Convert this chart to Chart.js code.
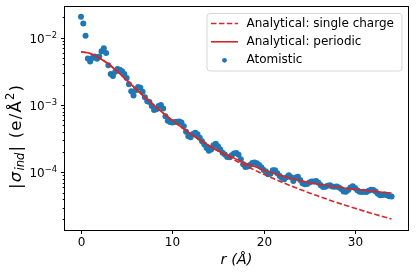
<!DOCTYPE html>
<html>
<head>
<meta charset="utf-8">
<script src="https://cdn.jsdelivr.net/npm/chart.js@4.4.1/dist/chart.umd.min.js"></script>
<style>html,body{margin:0;padding:0;background:#fff;}canvas{display:block;}</style>
</head>
<body>
<canvas id="c" width="416" height="276"></canvas>
<script>
// ---- data ----
const lineR = [0,1,2,3,4,5,6,7,8,9,10,11,12,13,14,15,16,17,18,19,20,21,22,23,24,25,26,27,28,29,30,31,32,33,34];
const singleCharge = [6.19e-3,5.85e-3,5.00e-3,4.07e-3,3.13e-3,2.34e-3,1.74e-3,1.30e-3,9.89e-4,7.59e-4,5.92e-4,4.68e-4,3.73e-4,3.02e-4,2.48e-4,2.07e-4,1.73e-4,1.47e-4,1.26e-4,1.08e-4,9.33e-5,8.15e-5,7.13e-5,6.28e-5,5.56e-5,4.94e-5,4.42e-5,3.96e-5,3.56e-5,3.22e-5,2.92e-5,2.65e-5,2.42e-5,2.21e-5,2.02e-5];
const periodic = [6.19e-3,5.85e-3,5.00e-3,4.07e-3,3.13e-3,2.34e-3,1.74e-3,1.30e-3,9.89e-4,7.59e-4,5.92e-4,4.68e-4,3.73e-4,3.04e-4,2.51e-4,2.11e-4,1.81e-4,1.57e-4,1.37e-4,1.22e-4,1.08e-4,9.75e-5,8.85e-5,8.09e-5,7.52e-5,7.05e-5,6.65e-5,6.32e-5,6.04e-5,5.79e-5,5.60e-5,5.41e-5,5.24e-5,5.07e-5,4.92e-5];
const atomR = [0,0.25,0.5,0.75,1,1.25,1.5,1.75,2,2.25,2.5,2.75,3,3.25,3.5,3.75,4,4.25,4.5,4.75,5,5.25,5.5,5.75,6,6.25,6.5,6.75,7,7.25,7.5,7.75,8,8.25,8.5,8.75,9,9.25,9.5,9.75,10,10.25,10.5,10.75,11,11.25,11.5,11.75,12,12.25,12.5,12.75,13,13.25,13.5,13.75,14,14.25,14.5,14.75,15,15.25,15.5,15.75,16,16.25,16.5,16.75,17,17.25,17.5,17.75,18,18.25,18.5,18.75,19,19.25,19.5,19.75,20,20.25,20.5,20.75,21,21.25,21.5,21.75,22,22.25,22.5,22.75,23,23.25,23.5,23.75,24,24.25,24.5,24.75,25,25.25,25.5,25.75,26,26.25,26.5,26.75,27,27.25,27.5,27.75,28,28.25,28.5,28.75,29,29.25,29.5,29.75,30,30.25,30.5,30.75,31,31.25,31.5,31.75,32,32.25,32.5,32.75,33,33.25,33.5,33.75,34];
const atomistic = [2.05e-2,1.62e-2,1.07e-2,4.93e-3,4.44e-3,5.01e-3,5.28e-3,4.85e-3,5.24e-3,6.27e-3,6.98e-3,5.92e-3,3.89e-3,2.89e-3,2.70e-3,3.12e-3,3.43e-3,3.34e-3,3.18e-3,2.89e-3,2.51e-3,2.03e-3,1.60e-3,1.39e-3,1.66e-3,1.86e-3,1.81e-3,1.57e-3,1.30e-3,1.14e-3,1.11e-3,9.66e-4,8.41e-4,8.63e-4,9.70e-4,9.98e-4,8.91e-4,6.81e-4,5.83e-4,5.61e-4,5.52e-4,5.57e-4,5.64e-4,5.69e-4,5.50e-4,4.84e-4,3.99e-4,3.44e-4,3.33e-4,3.72e-4,3.86e-4,3.67e-4,3.26e-4,2.90e-4,2.58e-4,2.30e-4,2.09e-4,2.19e-4,2.52e-4,2.65e-4,2.43e-4,2.18e-4,1.95e-4,1.84e-4,1.69e-4,1.67e-4,1.80e-4,1.91e-4,1.93e-4,1.82e-4,1.57e-4,1.32e-4,1.20e-4,1.22e-4,1.29e-4,1.37e-4,1.40e-4,1.36e-4,1.29e-4,1.19e-4,1.08e-4,1.03e-4,9.38e-5,9.55e-5,1.07e-4,1.07e-4,9.72e-5,8.85e-5,8.26e-5,7.89e-5,8.45e-5,9.08e-5,8.47e-5,7.41e-5,8.36e-5,8.59e-5,7.69e-5,6.90e-5,6.64e-5,6.68e-5,7.05e-5,7.28e-5,7.33e-5,7.40e-5,6.97e-5,6.41e-5,6.05e-5,6.11e-5,6.32e-5,6.40e-5,6.18e-5,6.11e-5,6.18e-5,5.97e-5,5.65e-5,5.21e-5,5.16e-5,5.48e-5,5.96e-5,6.19e-5,5.86e-5,5.42e-5,5.13e-5,5.09e-5,5.16e-5,5.12e-5,5.32e-5,5.52e-5,5.48e-5,5.19e-5,4.81e-5,4.55e-5,4.62e-5,4.70e-5,4.55e-5,4.42e-5,4.39e-5];
const xTicks = [0, 10, 20, 30];
const yTickExps = [-2, -3, -4];
const seriesLabels = ['Analytical: single charge', 'Analytical: periodic', 'Atomistic'];

const RED = '#d62728', BLUE = '#1f77b4';
const FONT = '"DejaVu Sans", sans-serif';

function pts(xs, ys){ return xs.map((x,i)=>({x:x, y:ys[i]})); }

const axesPlugin = {
  id: 'mplAxes',
  afterDraw(chart){
    const ctx = chart.ctx, a = chart.chartArea;
    const xs = chart.scales.x, ys = chart.scales.y;
    ctx.save();
    // frame
    ctx.strokeStyle = '#000'; ctx.lineWidth = 1;
    ctx.strokeRect(Math.round(a.left)-0.5, Math.round(a.top)-0.5, Math.round(a.right-a.left)+1, Math.round(a.bottom-a.top)+1);
    // x ticks
    ctx.fillStyle = '#000';
    ctx.font = '12px ' + FONT;
    ctx.textAlign = 'center'; ctx.textBaseline = 'middle';
    xTicks.forEach(t=>{
      const px = Math.round(xs.getPixelForValue(t)) + 0.5;
      ctx.beginPath(); ctx.moveTo(px, a.bottom); ctx.lineTo(px, a.bottom+4); ctx.stroke();
      ctx.fillText(String(t), px, a.bottom + 13);
    });
    // y minor ticks
    for (let e=-6; e<=-1; e++){
      for (let k=2; k<=9; k++){
        const v = k*Math.pow(10,e);
        if (v < ys.min || v > ys.max) continue;
        const py = Math.round(ys.getPixelForValue(v)) + 0.5;
        ctx.beginPath(); ctx.moveTo(a.left, py); ctx.lineTo(a.left-2.3, py); ctx.stroke();
      }
    }
    // y major ticks + labels 10^e
    yTickExps.forEach(e=>{
      const py = Math.round(ys.getPixelForValue(Math.pow(10,e))) + 0.5;
      ctx.beginPath(); ctx.moveTo(a.left, py); ctx.lineTo(a.left-4, py); ctx.stroke();
      const base = '10', ex = '\u2212' + String(-e);
      ctx.textAlign = 'left'; ctx.textBaseline = 'alphabetic';
      ctx.font = '8.4px ' + FONT; const wE = ctx.measureText(ex).width;
      ctx.font = '12px ' + FONT; const wB = ctx.measureText(base).width;
      const right = a.left - 8;
      const x0 = right - wE - wB;
      const baseY = py + 4.4;
      ctx.fillText(base, x0, baseY);
      ctx.font = '8.4px ' + FONT;
      ctx.fillText(ex, x0 + wB, baseY - 5.2);
    });
    // x title
    ctx.font = 'italic 14.5px ' + FONT;
    ctx.textAlign = 'center'; ctx.textBaseline = 'middle';
    ctx.fillText('r (\u00C5)', (a.left+a.right)/2, 260);
    // y title (rotated, with sub/superscript)
    const F = 16.5;
    const gap = 1.2;
    const pieces = [
      {t:'|', f:F+'px '+FONT, dy:0},
      {t:'\u03C3', f:'italic '+F+'px '+FONT, dy:0},
      {t:'ind', f:'italic '+(F*0.7)+'px '+FONT, dy:F*0.22},
      {t:'|', f:F+'px '+FONT, dy:0},
      {t:' ', f:F+'px '+FONT, dy:0},
      {t:'(', f:F+'px '+FONT, dy:0},
      {t:'e', f:F+'px '+FONT, dy:0},
      {t:'/', f:F+'px '+FONT, dy:0},
      {t:'\u00C5', f:F+'px '+FONT, dy:0},
      {t:'2', f:(F*0.7)+'px '+FONT, dy:-F*0.42},
      {t:')', f:F+'px '+FONT, dy:0}
    ];
    let total = 0;
    pieces.forEach(p=>{ ctx.font = p.f; p.w = ctx.measureText(p.t).width + gap; total += p.w; });
    total -= gap;
    ctx.translate(20.5, 137);
    ctx.rotate(-Math.PI/2);
    ctx.textAlign = 'left'; ctx.textBaseline = 'alphabetic';
    let cx = -total/2;
    pieces.forEach(p=>{ ctx.font = p.f; ctx.fillText(p.t, cx, p.dy); cx += p.w; });
    ctx.restore();

    // legend
    ctx.save();
    const L = 207, T = 13.5, R = 402, B = 71, rad = 3;
    ctx.globalAlpha = 0.8;
    ctx.fillStyle = '#fff'; ctx.strokeStyle = '#cccccc'; ctx.lineWidth = 1;
    ctx.beginPath();
    ctx.moveTo(L+rad, T); ctx.lineTo(R-rad, T); ctx.quadraticCurveTo(R, T, R, T+rad);
    ctx.lineTo(R, B-rad); ctx.quadraticCurveTo(R, B, R-rad, B);
    ctx.lineTo(L+rad, B); ctx.quadraticCurveTo(L, B, L, B-rad);
    ctx.lineTo(L, T+rad); ctx.quadraticCurveTo(L, T, L+rad, T);
    ctx.closePath(); ctx.fill(); ctx.stroke();
    ctx.globalAlpha = 1;
    const rows = [23.5, 41.8, 60.3];
    const ds = chart.data.datasets;
    ds.forEach((d,i)=>{
      const y = rows[i];
      if (i < 2){
        ctx.strokeStyle = d.borderColor; ctx.lineWidth = d.borderWidth;
        ctx.setLineDash(d.borderDash || []);
        ctx.beginPath(); ctx.moveTo(211, y); ctx.lineTo(238, y); ctx.stroke();
        ctx.setLineDash([]);
      } else {
        ctx.fillStyle = d.backgroundColor;
        ctx.beginPath(); ctx.arc(224.5, y, 2.4, 0, Math.PI*2); ctx.fill();
      }
      ctx.fillStyle = '#000';
      ctx.font = '12px ' + FONT; ctx.textAlign = 'left'; ctx.textBaseline = 'middle';
      ctx.fillText(d.label, 246.5, y);
    });
    ctx.restore();
  }
};

new Chart(document.getElementById('c').getContext('2d'), {
  type: 'scatter',
  data: {
    datasets: [
      { label: seriesLabels[0], type: 'line', data: pts(lineR, singleCharge), borderColor: RED, borderWidth: 1.6,
        borderDash: [5.5, 2.4], pointRadius: 0, fill: false, cubicInterpolationMode: 'monotone' },
      { label: seriesLabels[1], type: 'line', data: pts(lineR, periodic), borderColor: RED, borderWidth: 1.6,
        pointRadius: 0, fill: false, cubicInterpolationMode: 'monotone' },
      { label: seriesLabels[2], data: pts(atomR, atomistic), backgroundColor: BLUE, borderColor: BLUE, borderWidth: 0,
        pointRadius: 3, pointHoverRadius: 3 }
    ]
  },
  options: {
    responsive: false, animation: false, devicePixelRatio: 1,
    layout: { padding: { left: 65, top: 7, right: 8, bottom: 46 } },
    plugins: { legend: { display: false }, tooltip: { enabled: false } },
    scales: {
      x: { type: 'linear', display: false, min: -1.75, max: 35.8 },
      y: { type: 'logarithmic', display: false, min: 1.39e-5, max: 2.86e-2 }
    }
  },
  plugins: [axesPlugin]
});
</script>
</body>
</html>
